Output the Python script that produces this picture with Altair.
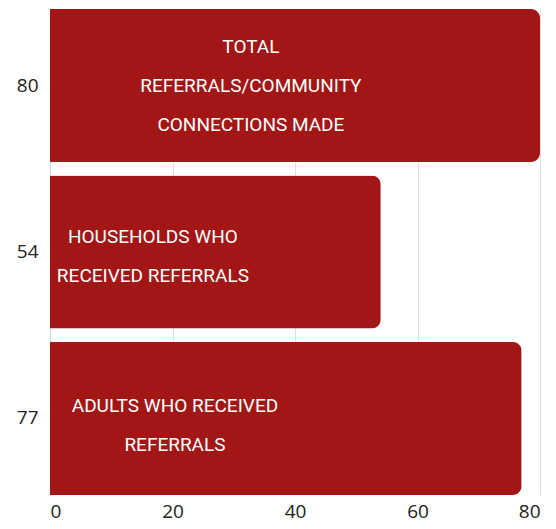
import altair as alt
import pandas as pd

categories = ["Total referrals", "Households", "Adults"]
values = [80, 54, 77]
labels = [
    "TOTAL\nREFERRALS/COMMUNITY\nCONNECTIONS MADE",
    "HOUSEHOLDS WHO\nRECEIVED REFERRALS",
    "ADULTS WHO RECEIVED\nREFERRALS",
]
label_anchor = [32.8, 16.8, 20.4]
x_ticks = [0, 20, 40, 60, 80]

df = pd.DataFrame({
    "cat": [str(v) for v in values],
    "value": values,
    "label": labels,
    "anchor": label_anchor,
})
order = [str(v) for v in values]

y_enc = alt.Y("cat:N", sort=order, title=None,
              scale=alt.Scale(paddingInner=0.08, paddingOuter=0.0),
              axis=alt.Axis(ticks=False, domain=True, domainColor="#d6d6d6",
                            labelFont="Open Sans", labelFontSize=19,
                            labelColor="#222222", labelPadding=12,
                            minExtent=42, grid=False))

bars = alt.Chart(df).mark_bar(color="#A31616", cornerRadiusEnd=9).encode(
    x=alt.X("value:Q", title=None,
            scale=alt.Scale(domain=[0, 80], nice=False),
            axis=alt.Axis(values=x_ticks, ticks=False, domain=False,
                          grid=True, gridColor="#dddddd",
                          labelFont="Open Sans", labelFontSize=19,
                          labelColor="#222222", labelPadding=7)),
    y=y_enc,
)

def text_layer(cat, dy):
    return alt.Chart(df).transform_filter(alt.datum.cat == cat).mark_text(
        color="white", font="Roboto", fontSize=19, lineBreak="\n",
        lineHeight=39, align="center", baseline="middle", dy=dy
    ).encode(
        x=alt.X("anchor:Q"),
        y=alt.Y("cat:N", sort=order),
        text="label:N",
    )

chart = (bars + text_layer("80", -39) + text_layer("54", -15) + text_layer("77", -12)).properties(
    width=490, height=486,
    padding={"left": 0, "top": 0, "right": 4, "bottom": 4}
).configure_view(stroke=None)

chart.save("out.html", embed_options={"renderer": "svg", "actions": False})
